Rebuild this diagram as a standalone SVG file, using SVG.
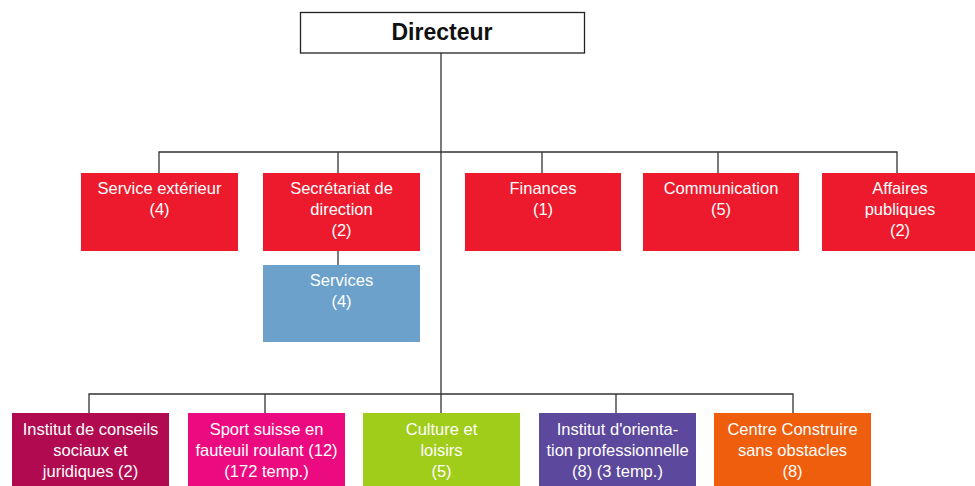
<svg xmlns="http://www.w3.org/2000/svg" width="975" height="486" viewBox="0 0 975 486">
<style>
.t{font-family:"Liberation Sans",Arial,sans-serif;font-size:16.5px;fill:#fff;text-anchor:middle}
.c{fill:none;stroke:#333;stroke-width:1.3}
</style>
<rect width="975" height="486" fill="#fff"/>
<g id="connectors" class="c">
<path d="M441 53V413"/>
<path d="M159 173V152H897V173M338 152V173M542 152V173M718 152V173"/>
<path d="M338 251V265"/>
<path d="M89 413V394H793V413M265 394V413M616 394V413"/>
</g>
<g id="directeur">
<rect x="300.5" y="12.5" width="284" height="40.5" fill="#fff" stroke="#222" stroke-width="1.3"/>
<text x="442" y="40" style="font-family:'Liberation Sans',Arial,sans-serif;font-size:23px;font-weight:bold;fill:#111;text-anchor:middle">Directeur</text>
</g>
<g id="service-exterieur">
<rect x="81" y="173" width="157" height="78" fill="#EC1A2C"/>
<text class="t" x="159.5" y="194">Service extérieur</text>
<text class="t" x="159.5" y="215">(4)</text>
</g>
<g id="secretariat">
<rect x="263" y="173" width="157" height="78" fill="#EC1A2C"/>
<text class="t" x="341.5" y="194">Secrétariat de</text>
<text class="t" x="341.5" y="215">direction</text>
<text class="t" x="341.5" y="236">(2)</text>
</g>
<g id="services">
<rect x="263" y="265" width="157" height="77" fill="#6BA1CB"/>
<text class="t" x="341.5" y="286">Services</text>
<text class="t" x="341.5" y="307">(4)</text>
</g>
<g id="finances">
<rect x="465" y="173" width="156" height="78" fill="#EC1A2C"/>
<text class="t" x="543" y="194">Finances</text>
<text class="t" x="543" y="215">(1)</text>
</g>
<g id="communication">
<rect x="643" y="173" width="156" height="78" fill="#EC1A2C"/>
<text class="t" x="721" y="194">Communication</text>
<text class="t" x="721" y="215">(5)</text>
</g>
<g id="affaires">
<rect x="822" y="173" width="153" height="78" fill="#EC1A2C"/>
<text class="t" x="900" y="194">Affaires</text>
<text class="t" x="900" y="215">publiques</text>
<text class="t" x="900" y="236">(2)</text>
</g>
<g id="institut-conseils">
<rect x="12" y="413" width="157" height="78" fill="#B20A50"/>
<text class="t" x="90.5" y="435">Institut de conseils</text>
<text class="t" x="90.5" y="456">sociaux et</text>
<text class="t" x="90.5" y="477">juridiques (2)</text>
</g>
<g id="sport">
<rect x="188" y="413" width="157" height="78" fill="#EC0A80"/>
<text class="t" x="266.5" y="435">Sport suisse en</text>
<text class="t" x="266.5" y="456">fauteuil roulant (12)</text>
<text class="t" x="266.5" y="477">(172 temp.)</text>
</g>
<g id="culture">
<rect x="363" y="413" width="157" height="78" fill="#9FCD1A"/>
<text class="t" x="441.5" y="435">Culture et</text>
<text class="t" x="441.5" y="456">loisirs</text>
<text class="t" x="441.5" y="477">(5)</text>
</g>
<g id="institut-orientation">
<rect x="539" y="413" width="157" height="78" fill="#5C489C"/>
<text class="t" x="617.5" y="435">Institut d'orienta-</text>
<text class="t" x="617.5" y="456">tion professionnelle</text>
<text class="t" x="617.5" y="477">(8) (3 temp.)</text>
</g>
<g id="centre">
<rect x="714" y="413" width="157" height="78" fill="#EE5E0C"/>
<text class="t" x="792.5" y="435">Centre Construire</text>
<text class="t" x="792.5" y="456">sans obstacles</text>
<text class="t" x="792.5" y="477">(8)</text>
</g>
</svg>
